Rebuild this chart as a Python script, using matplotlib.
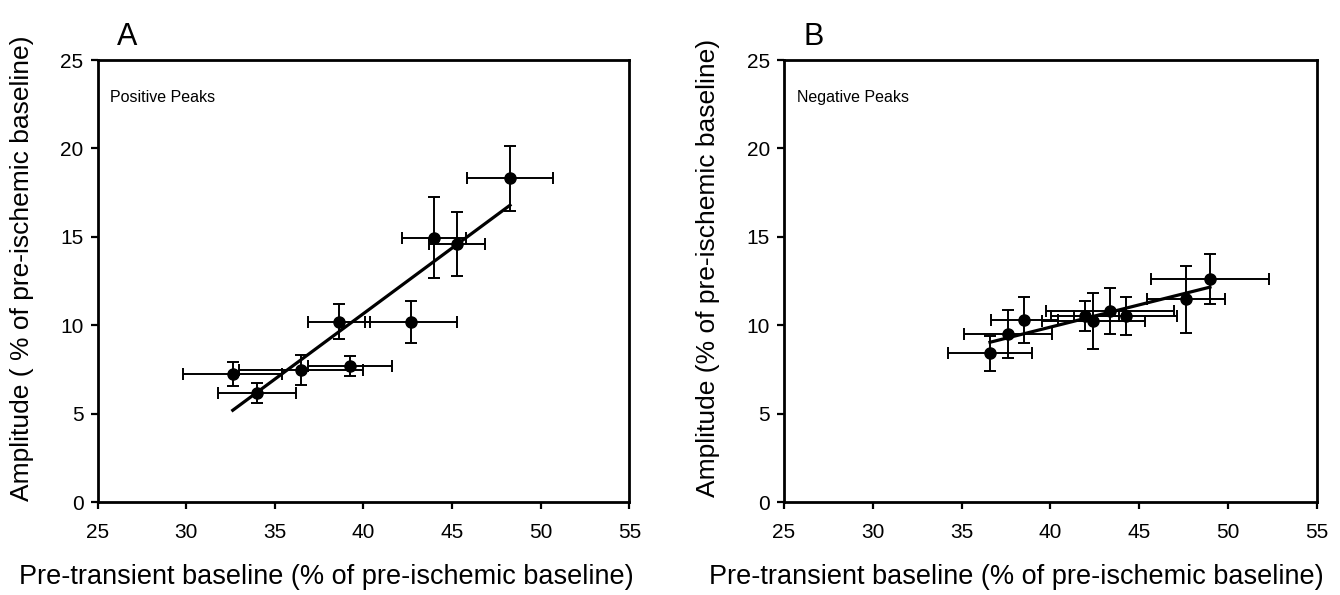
import numpy as np
import matplotlib
matplotlib.use("Agg")
import matplotlib.pyplot as plt

plt.rcParams['font.family'] = ['Liberation Sans', 'DejaVu Sans']

# Panel A: Positive peaks
pos_x = [32.63, 34.01, 36.48, 39.24, 38.64, 42.70, 44.00, 45.26, 48.27]
pos_xerr = [2.78, 2.20, 3.52, 2.35, 1.76, 2.60, 1.80, 1.58, 2.40]
pos_y = [7.24, 6.16, 7.48, 7.70, 10.21, 10.21, 14.96, 14.60, 18.32]
pos_yerr = [0.69, 0.57, 0.85, 0.57, 1.00, 1.18, 2.30, 1.80, 1.83]

# Panel B: Negative peaks
neg_x = [36.60, 37.60, 38.53, 41.95, 42.42, 43.36, 44.26, 47.64, 48.99]
neg_xerr = [2.39, 2.49, 1.90, 1.90, 2.90, 3.60, 2.90, 2.20, 3.30]
neg_y = [8.42, 9.50, 10.31, 10.53, 10.27, 10.81, 10.55, 11.48, 12.61]
neg_yerr = [0.98, 1.35, 1.28, 0.86, 1.58, 1.28, 1.08, 1.90, 1.40]

x_ticks = [25, 30, 35, 40, 45, 50, 55]
y_ticks = [0, 5, 10, 15, 20, 25]

xlabel = "Pre-transient baseline (% of pre-ischemic baseline)"
ylabels = ["Amplitude ( % of pre-ischemic baseline)",
           "Amplitude (% of pre-ischemic baseline)"]
titles = ["Positive Peaks", "Negative Peaks"]
letters = ["A", "B"]

W, H = 1340, 595
fig = plt.figure(figsize=(W / 100, H / 100), dpi=100)
axA = fig.add_axes([97.5 / W, 1 - 502.3 / H, 531.8 / W, 442.3 / H])
axB = fig.add_axes([784 / W, 1 - 502.3 / H, 532.7 / W, 442.3 / H])

datasets = [(pos_x, pos_xerr, pos_y, pos_yerr), (neg_x, neg_xerr, neg_y, neg_yerr)]
ylabel_x = [22, 708]
xlabel_x = [326, 1016]

for i, (ax, (x, xe, y, ye)) in enumerate(zip([axA, axB], datasets)):
    x = np.array(x); y = np.array(y)
    ax.errorbar(x, y, xerr=xe, yerr=ye, fmt='o', color='black', ecolor='black',
                markersize=8, elinewidth=1.4, capsize=4.5, capthick=1.4, zorder=3)
    slope, intercept = np.polyfit(x, y, 1)
    xx = np.array([x.min(), x.max()])
    ax.plot(xx, slope * xx + intercept, color='black', lw=2.3, zorder=4)
    ax.set_xlim(25, 55)
    ax.set_ylim(0, 25)
    ax.set_xticks(x_ticks)
    ax.set_yticks(y_ticks)
    ax.tick_params(direction='out', length=5, width=1.6, labelsize=15, pad=5,
                   colors='black')
    ax.tick_params(axis='x', pad=10)
    for s in ax.spines.values():
        s.set_linewidth(2.0)
    fig.text(xlabel_x[i] / W, 1 - 577 / H, xlabel, fontsize=19.5,
             ha='center', va='center')
    fig.text(ylabel_x[i] / W, 1 - 268 / H, ylabels[i], fontsize=19,
             rotation=90, ha='center', va='center')
    ax.text(0.024, 0.916, titles[i], transform=ax.transAxes, fontsize=11.5,
            va='center', ha='left')
    ax.text(0.037, 1.052, letters[i], transform=ax.transAxes, fontsize=22,
            va='center', ha='left')

fig.savefig("out.png", dpi=100)
